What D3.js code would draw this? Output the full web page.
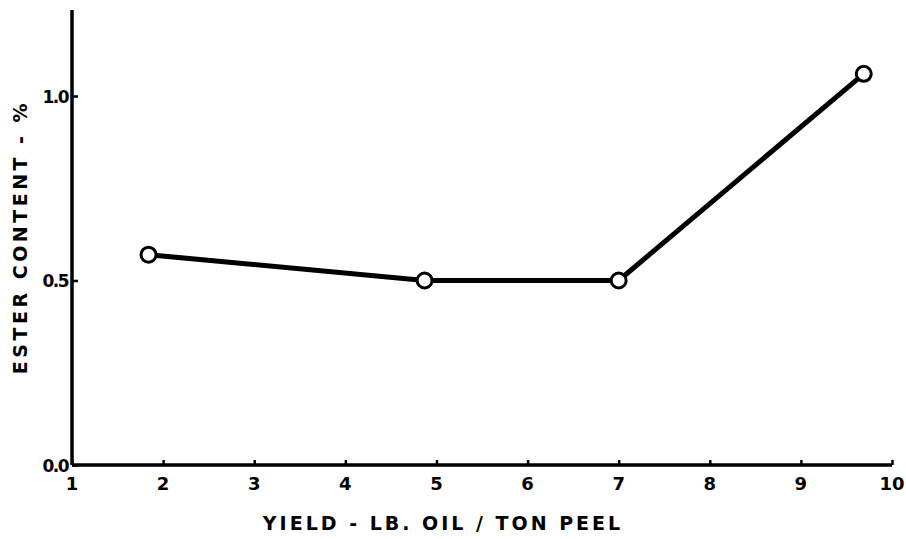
<html lang="en">
<head>
    <meta charset="UTF-8">
    <script src="https://d3js.org/d3.v7.min.js"></script>
    <style>
        body { margin: 0; background: #fff; }
        text { font-family: "DejaVu Sans", sans-serif; font-weight: bold; fill: #000; }
    </style>
</head>
<body>
    <script type="text/javascript">

        // yield (lb oil / ton peel) vs ester content (%)
        let yieldValues = [1.84, 4.87, 7.0, 9.69];
        let esterValues = [0.57, 0.50, 0.50, 1.06];
        let xTicks = [1, 2, 3, 4, 5, 6, 7, 8, 9, 10];
        let yTicks = [0.0, 0.5, 1.0];
        let yTickLabels = ["0.0", "0.5", "1.0"];

        let width = 906;
        let height = 539;

        let svg = d3.select('body')
            .append('svg')
            .attr('width', width)
            .attr('height', height);

        let x = d3.scaleLinear().domain([1, 10]).range([72, 892]);
        let y = d3.scaleLinear().domain([0, 1.233]).range([465, 10]);

        // x axis
        let xAxis = svg.append('g')
            .attr('transform', `translate(0, ${y(0)})`)
            .call(d3.axisBottom(x).tickValues(xTicks).tickSize(-5).tickPadding(0).tickFormat(d => ''));
        xAxis.select('.domain').attr('stroke', '#000').attr('stroke-width', 3.5)
            .attr('d', `M${x(1)},0H${x(10)}`);
        xAxis.selectAll('.tick line').attr('stroke', '#000').attr('stroke-width', 2.5);

        svg.append('g').selectAll('text')
            .data(xTicks)
            .join('text')
            .attr('x', d => x(d))
            .attr('y', 490)
            .attr('text-anchor', 'middle')
            .attr('font-size', 18)
            .text(d => d);

        // y axis
        let yAxis = svg.append('g')
            .attr('transform', `translate(${x(1)}, 0)`)
            .call(d3.axisLeft(y).tickValues(yTicks).tickSize(-6).tickFormat(d => ''));
        yAxis.select('.domain').attr('stroke', '#000').attr('stroke-width', 3.5)
            .attr('d', `M0,${y(1.233)}V${y(0)}`);
        yAxis.selectAll('.tick line').attr('stroke', '#000').attr('stroke-width', 2.5);

        svg.append('g').selectAll('text')
            .data(yTicks)
            .join('text')
            .attr('x', 68)
            .attr('y', d => y(d) + 7)
            .attr('text-anchor', 'end')
            .attr('font-size', 17)
            .attr('letter-spacing', -1.5)
            .text((d, i) => yTickLabels[i]);

        // axis titles
        svg.append('text')
            .attr('x', 443)
            .attr('y', 530)
            .attr('text-anchor', 'middle')
            .attr('font-size', 19)
            .attr('letter-spacing', 3)
            .text('YIELD - LB. OIL / TON PEEL');

        svg.append('text')
            .attr('transform', 'translate(27, 237) rotate(-90)')
            .attr('text-anchor', 'middle')
            .attr('font-size', 19)
            .attr('letter-spacing', 3.5)
            .text('ESTER CONTENT - %');

        // data line + markers
        let points = yieldValues.map((v, i) => [v, esterValues[i]]);

        svg.append('path')
            .datum(points)
            .attr('fill', 'none')
            .attr('stroke', '#000')
            .attr('stroke-width', 5)
            .attr('stroke-linejoin', 'round')
            .attr('d', d3.line().x(d => x(d[0])).y(d => y(d[1])));

        svg.append('g').selectAll('circle')
            .data(points)
            .join('circle')
            .attr('cx', d => x(d[0]))
            .attr('cy', d => y(d[1]))
            .attr('r', 7.5)
            .attr('fill', '#fff')
            .attr('stroke', '#000')
            .attr('stroke-width', 3);
    </script>
</body>
</html>
